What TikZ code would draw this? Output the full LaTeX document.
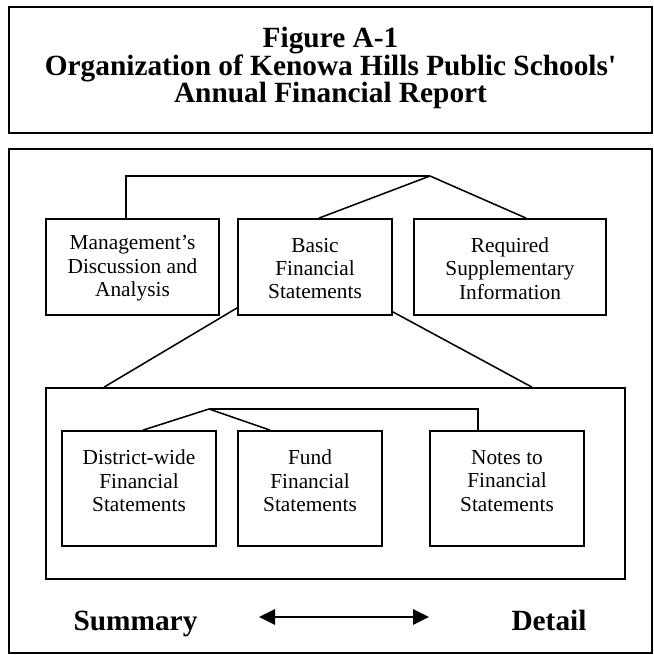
\documentclass[tikz,border=0pt]{standalone}
\usepackage{fontspec}
\setmainfont{Liberation Serif}[Ligatures=TeXOff]
\usetikzlibrary{arrows.meta,calc}

\tikzset{
  frame/.style={draw, line width=1.6pt},
  box/.style={draw, line width=1.35pt, rectangle, inner sep=0pt},
  link/.style={draw, line width=1.15pt, line join=miter},
  boxtext/.style={align=center, font=\fontsize{16}{17.5}\selectfont, inner sep=0pt},
  heading/.style={align=center, font=\fontsize{22}{20.6}\selectfont\bfseries, inner sep=0pt},
  endlabel/.style={font=\fontsize{22}{24}\selectfont\bfseries, anchor=base, inner sep=0pt},
  scalearrow/.style={line width=1.3pt, {Triangle[length=12pt,width=11.5pt]}-{Triangle[length=12pt,width=11.5pt]}}
}

\begin{document}
\begin{tikzpicture}[x=0.75pt,y=-0.75pt]
\useasboundingbox (0,0) rectangle (653,655);

% title frame
\node[frame, rectangle, minimum width=643*0.75pt, minimum height=126*0.75pt, inner sep=0pt]
  (title) at (330.5,70) {};
\node[heading] (titletext) at (330.5,68)
  {Figure A-1\\Organization of Kenowa Hills Public Schools'\\Annual Financial Report};

% outer frame
\node[frame, rectangle, minimum width=643*0.75pt, minimum height=504*0.75pt, inner sep=0pt]
  (outer) at (330.5,401) {};

% top row of boxes
\node[box, minimum width=173*0.75pt, minimum height=96*0.75pt] (mgmt) at (132.5,267) {};
\node[box, minimum width=154*0.75pt, minimum height=96*0.75pt] (basic) at (315,267) {};
\node[box, minimum width=192*0.75pt, minimum height=96*0.75pt] (rsi) at (510,267) {};
\node[boxtext] (mgmtt) at ($(mgmt.center)+(0,1.5)$) {Management’s\\Discussion and\\Analysis};
\node[boxtext] (basict) at ($(basic.center)+(0,1.5)$) {Basic\\Financial\\Statements};
\node[boxtext] (rsit) at ($(rsi.center)+(0,1.5)$) {Required\\Supplementary\\Information};

% connector over the top row
\coordinate (tp) at (430,176);
\draw[link] ($(mgmt.north)+(-6.5,0)$) |- (tp);
\draw[link] (tp) -- ($(basic.north)+(4,0)$);
\draw[link] (tp) -- ($(rsi.north)+(16,0)$);

% box of the basic statements
\node[box, minimum width=579*0.75pt, minimum height=191*0.75pt] (inner) at (335.5,483.5) {};
\draw[link] ($(basic.south west)+(0,-8)$) -- ($(inner.north west)+(59,0)$);
\draw[link] ($(basic.south east)+(0,-4)$) -- ($(inner.north east)+(-94,0)$);

% lower row of boxes
\node[box, minimum width=154*0.75pt, minimum height=115*0.75pt] (dist) at (139,488.5) {};
\node[box, minimum width=144*0.75pt, minimum height=115*0.75pt] (fund) at (310,488.5) {};
\node[box, minimum width=154*0.75pt, minimum height=115*0.75pt] (notes) at (507,488.5) {};
\node[boxtext] (distt) at ($(dist.center)+(0,-7.5)$) {District-wide\\Financial\\Statements};
\node[boxtext] (fundt) at ($(fund.center)+(0,-7.5)$) {Fund\\Financial\\Statements};
\node[boxtext] (notest) at ($(notes.center)+(0,-7.5)$) {Notes to\\Financial\\Statements};

% connector over the lower row
\coordinate (ip) at (209,409);
\draw[link] ($(dist.north)+(4,0)$) -- (ip);
\draw[link] ($(fund.north)+(-40,0)$) -- (ip);
\draw[link] (ip) -| ($(notes.north)+(-29,0)$);

% summary-to-detail scale
\node[endlabel] (summary) at (135.5,630) {Summary};
\node[endlabel] (detail) at (549,630) {Detail};
\coordinate (al) at (259,617);
\coordinate (ar) at (429,617);
\draw[scalearrow] (al) -- (ar);
\end{tikzpicture}
\end{document}
